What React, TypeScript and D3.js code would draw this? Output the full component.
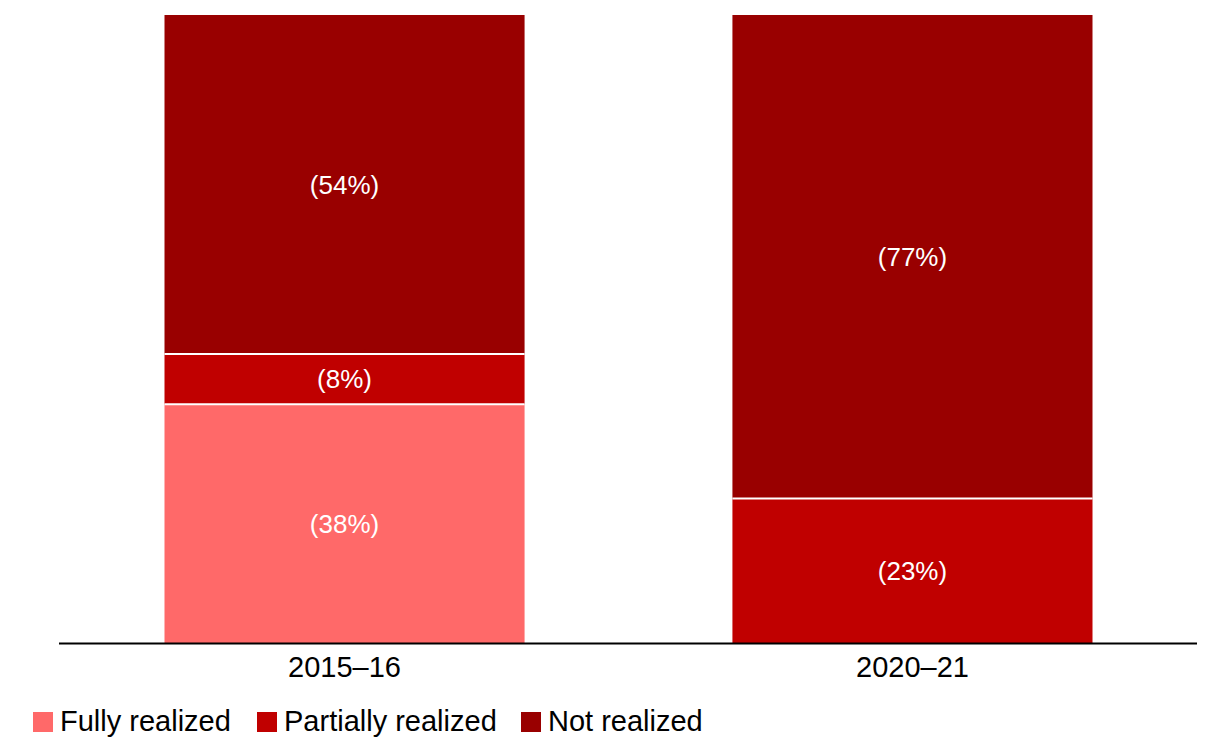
import React from "react";
import * as d3 from "d3";

const categories = ["2015–16", "2020–21"];
const seriesNames = ["Fully realized", "Partially realized", "Not realized"];
const fullyRealized = [38, 0];
const partiallyRealized = [8, 23];
const notRealized = [54, 77];
const colors = ["#FF6969", "#C00000", "#990000"];

const W = 1211;
const H = 738;
const margin = { top: 15, left: 60, right: 14, bottom: 95 };

export default function App() {
  const rows = categories.map((c, i) => ({
    cat: c,
    "Fully realized": fullyRealized[i],
    "Partially realized": partiallyRealized[i],
    "Not realized": notRealized[i],
  }));
  const stack = d3.stack<any>().keys(seriesNames)(rows);
  const x = d3
    .scaleBand()
    .domain(categories)
    .range([margin.left, W - margin.right])
    .paddingInner(0.366)
    .paddingOuter(0.184);
  const baseY = H - margin.bottom;
  const y = d3.scaleLinear().domain([0, 100]).range([baseY, margin.top]);
  const font = "Arial, 'Liberation Sans', sans-serif";

  const legendItems = [{ x: 33 }, { x: 257 }, { x: 521 }];

  return (
    <svg width={W} height={H} style={{ position: "absolute", left: 0, top: 0 }}>
      {stack.map((s, si) =>
        s.map((d, i) => {
          const v = d[1] - d[0];
          if (v <= 0) return null;
          const x0 = x(categories[i])!;
          const y0 = y(d[1]);
          const y1 = y(d[0]);
          return (
            <g key={`${si}-${i}`}>
              <rect x={x0} y={y0} width={x.bandwidth()} height={y1 - y0} fill={colors[si]} />
              <text
                x={x0 + x.bandwidth() / 2}
                y={(y0 + y1) / 2 + 9}
                textAnchor="middle"
                fill="#fff"
                fontFamily={font}
                fontSize={26}
              >
                ({v}%)
              </text>
            </g>
          );
        })
      )}
      {stack.slice(1).map((s, si) =>
        s.map((d, i) => {
          if (d[0] <= 0 || d[1] - d[0] <= 0) return null;
          const x0 = x(categories[i])!;
          return (
            <line
              key={`sep-${si}-${i}`}
              x1={x0}
              x2={x0 + x.bandwidth()}
              y1={y(d[0])}
              y2={y(d[0])}
              stroke="#fff"
              strokeWidth={2}
            />
          );
        })
      )}
      <line x1={59} x2={1197} y1={baseY + 0.5} y2={baseY + 0.5} stroke="#000" strokeWidth={2} />
      {categories.map((c) => (
        <text
          key={c}
          x={x(c)! + x.bandwidth() / 2}
          y={677}
          textAnchor="middle"
          fontFamily={font}
          fontSize={29}
          fill="#000"
        >
          {c}
        </text>
      ))}
      {seriesNames.map((n, i) => (
        <g key={n}>
          <rect x={legendItems[i].x} y={712} width={20} height={20} fill={colors[i]} />
          <text x={legendItems[i].x + 27} y={731} fontFamily={font} fontSize={29} fill="#000">
            {n}
          </text>
        </g>
      ))}
    </svg>
  );
}
